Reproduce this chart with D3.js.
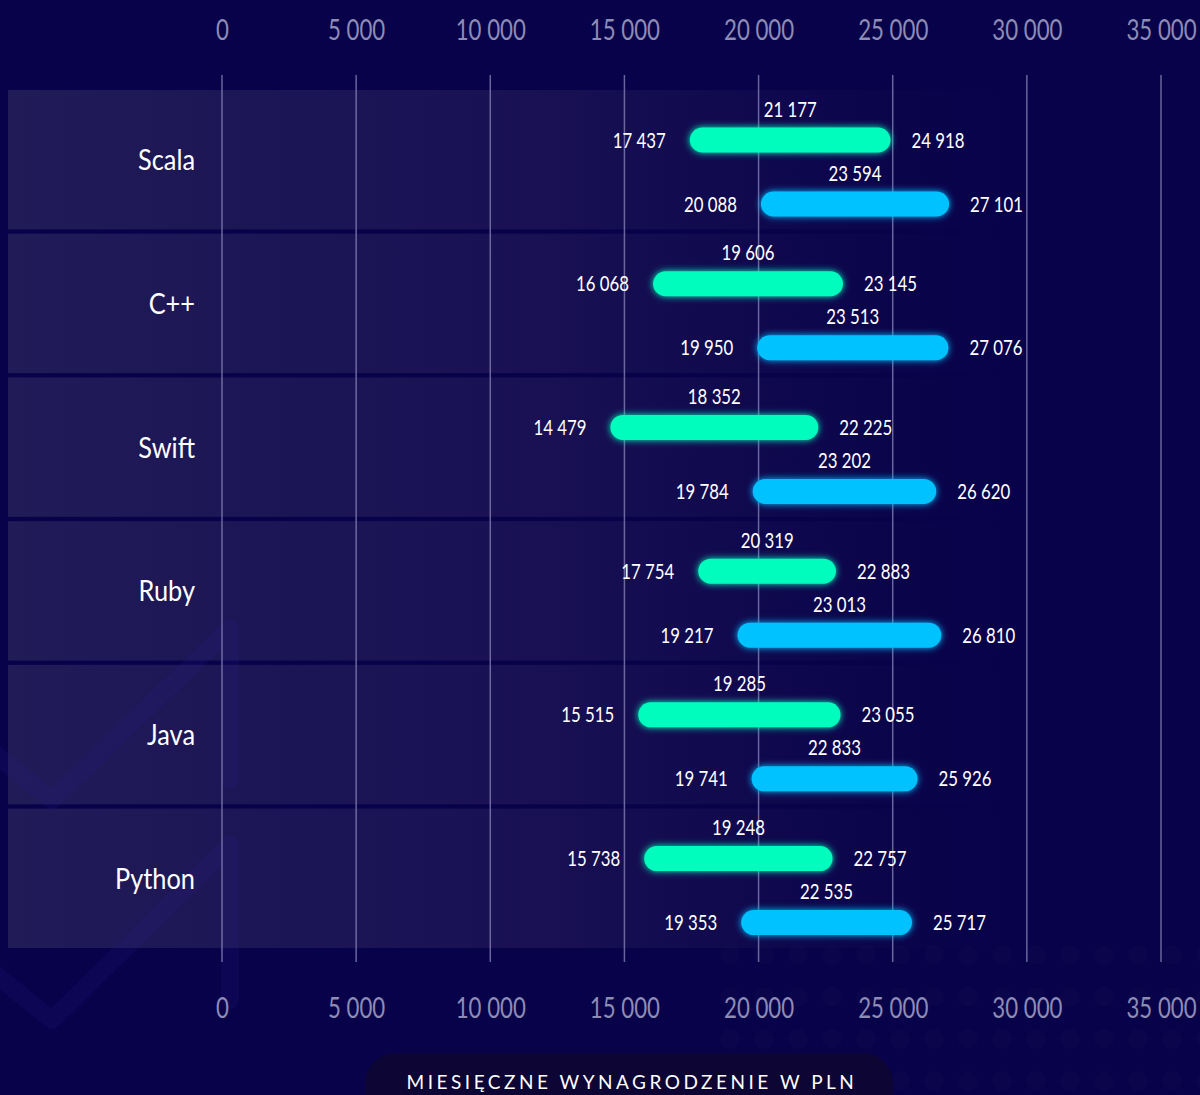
<!DOCTYPE html>
<html>
<head>
<meta charset="utf-8">
<script src="https://cdn.jsdelivr.net/npm/d3@7"></script>
<style>
  html, body { margin: 0; padding: 0; background: #08024a; }
  svg { display: block; }
</style>
</head>
<body>
<svg id="chart" width="1200" height="1095"></svg>
<script>
// ---- data ----
const categories = ["Scala", "C++", "Swift", "Ruby", "Java", "Python"];
const seriesA_min = [17437, 16068, 14479, 17754, 15515, 15738];
const seriesA_med = [21177, 19606, 18352, 20319, 19285, 19248];
const seriesA_max = [24918, 23145, 22225, 22883, 23055, 22757];
const seriesB_min = [20088, 19950, 19784, 19217, 19741, 19353];
const seriesB_med = [23594, 23513, 23202, 23013, 22833, 22535];
const seriesB_max = [27101, 27076, 26620, 26810, 25926, 25717];
const tickValues = [0, 5000, 10000, 15000, 20000, 25000, 30000, 35000];
const axisTitle = "MIESIĘCZNE WYNAGRODZENIE W PLN";

const series = [
  { key: "A", color: "#00fdbd", min: seriesA_min, med: seriesA_med, max: seriesA_max },
  { key: "B", color: "#00c2ff", min: seriesB_min, med: seriesB_med, max: seriesB_max }
];

const W = 1200, H = 1095;
const FONT = "Lato, 'Open Sans', sans-serif";
const locale = d3.formatLocale({ decimal: ",", thousands: " ", grouping: [3], currency: ["", ""] });
const fmt = locale.format(",d");

const svg = d3.select("#chart");
const defs = svg.append("defs");

// condensed text helper: group at (x,y), text scaled horizontally
function ctext(parent, px, py, str, opts) {
  const g = parent.append("g").attr("transform", `translate(${px},${py})`);
  g.append("text")
    .attr("transform", `scale(${opts.sx},1)`)
    .attr("text-anchor", opts.anchor || "start")
    .attr("fill", opts.fill || "#ffffff")
    .style("font-family", FONT)
    .style("font-size", opts.size + "px")
    .text(str);
  return g;
}

// background
svg.append("rect").attr("width", W).attr("height", H).attr("fill", "#08024a");

// band gradient
const bg = defs.append("linearGradient").attr("id", "bandGrad")
  .attr("gradientUnits", "userSpaceOnUse").attr("x1", 8).attr("x2", 1000).attr("y1", 0).attr("y2", 0);
bg.append("stop").attr("offset", 0).attr("stop-color", "#211b58").attr("stop-opacity", 1);
bg.append("stop").attr("offset", 0.55).attr("stop-color", "#1a1254").attr("stop-opacity", 0.9);
bg.append("stop").attr("offset", 1).attr("stop-color", "#140c50").attr("stop-opacity", 0);

// glow filters
const glow = defs.append("filter").attr("id", "glow").attr("x", "-20%").attr("y", "-100%").attr("width", "140%").attr("height", "300%");
glow.append("feGaussianBlur").attr("in", "SourceGraphic").attr("stdDeviation", 3.5).attr("result", "blur");
const merge = glow.append("feMerge");
merge.append("feMergeNode").attr("in", "blur");
merge.append("feMergeNode").attr("in", "SourceGraphic");

const medGlow = defs.append("filter").attr("id", "medGlow").attr("x", "-300%").attr("y", "-20%").attr("width", "700%").attr("height", "140%");
medGlow.append("feGaussianBlur").attr("in", "SourceGraphic").attr("stdDeviation", 2.5).attr("result", "blur");
const m2 = medGlow.append("feMerge");
m2.append("feMergeNode").attr("in", "blur");
m2.append("feMergeNode").attr("in", "SourceGraphic");

// decorative dots (bottom right, very faint)
const deco = svg.append("g");
const dotXs = d3.range(730, 1220, 34);
const dotYs = d3.range(955, 1100, 42);
dotYs.forEach(yy => dotXs.forEach(xx => {
  deco.append("circle").attr("cx", xx).attr("cy", yy).attr("r", 10).attr("fill", "#ffffff").attr("fill-opacity", 0.014);
}));

// scales
const x = d3.scaleLinear().domain([0, 35000]).range([222, 1161]);
const y = d3.scaleBand().domain(categories).range([90, 948]).paddingInner(0.03).paddingOuter(0);

// row bands
svg.append("g").selectAll("rect").data(categories).join("rect")
  .attr("x", 8).attr("width", W - 8)
  .attr("y", d => y(d)).attr("height", y.bandwidth())
  .attr("fill", "url(#bandGrad)");

// decorative check marks (very faint)
const checks = svg.append("g").attr("fill", "none").attr("stroke", "#2a2290").attr("stroke-opacity", 0.16)
  .attr("stroke-width", 18).attr("stroke-linecap", "round").attr("stroke-linejoin", "round");
checks.append("path").attr("d", "M -10 750 L 52 800 L 230 628 L 230 780");
checks.append("path").attr("d", "M -10 970 L 52 1020 L 230 845 L 230 1000");

// grid lines
svg.append("g").selectAll("line").data(tickValues).join("line")
  .attr("x1", d => x(d)).attr("x2", d => x(d))
  .attr("y1", 75).attr("y2", 962)
  .attr("stroke", "#8a86b8").attr("stroke-opacity", 0.75).attr("stroke-width", 1.5);

// axes (top & bottom)
function styleAxis(g) {
  g.select(".domain").remove();
  g.selectAll(".tick line").remove();
  g.selectAll(".tick text")
    .attr("fill", "#8e8bb4")
    .attr("dy", "0").attr("y", 0)
    .attr("transform", "scale(0.78,1)")
    .style("font-family", FONT)
    .style("font-size", "28.5px");
}
svg.append("g").attr("transform", "translate(0,40)")
  .call(d3.axisBottom(x).tickValues(tickValues).tickFormat(fmt).tickSize(0).tickPadding(0))
  .call(styleAxis);
svg.append("g").attr("transform", "translate(0,1018)")
  .call(d3.axisBottom(x).tickValues(tickValues).tickFormat(fmt).tickSize(0).tickPadding(0))
  .call(styleAxis);

// category labels
const catG = svg.append("g");
categories.forEach(c => {
  ctext(catG, 195, y(c) + y.bandwidth() / 2 + 10.5, c, { sx: 0.86, size: 29.5, anchor: "end" });
});

// bars
const offsets = { A: 50, B: 114 };
const barH = 25;
const plot = svg.append("g");
series.forEach(s => {
  categories.forEach((c, i) => {
    const cy = y(c) + offsets[s.key];
    const g = plot.append("g");
    g.append("rect")
      .attr("x", x(s.min[i])).attr("width", x(s.max[i]) - x(s.min[i]))
      .attr("y", cy - barH / 2).attr("height", barH)
      .attr("rx", barH / 2).attr("ry", barH / 2)
      .attr("fill", s.color).attr("filter", "url(#glow)");
    g.append("line")
      .attr("x1", x(s.med[i])).attr("x2", x(s.med[i]))
      .attr("y1", cy - 19).attr("y2", cy + 17)
      .attr("stroke", "#ffffff").attr("stroke-width", 2.5).attr("filter", "url(#medGlow)");
    const o = { sx: 0.8, size: 21 };
    ctext(g, x(s.min[i]) - 24, cy + 7.5, fmt(s.min[i]), Object.assign({ anchor: "end" }, o));
    ctext(g, x(s.max[i]) + 21, cy + 7.5, fmt(s.max[i]), Object.assign({ anchor: "start" }, o));
    ctext(g, x(s.med[i]), cy - 23.5, fmt(s.med[i]), Object.assign({ anchor: "middle" }, o));
  });
});

// axis title pill
svg.append("rect").attr("x", 365).attr("y", 1053).attr("width", 528).attr("height", 80)
  .attr("rx", 30).attr("ry", 30).attr("fill", "#0d0533");
svg.append("text").attr("x", 632).attr("y", 1089)
  .attr("text-anchor", "middle").attr("fill", "#ffffff")
  .style("font-family", FONT).style("font-size", "19px")
  .style("letter-spacing", "3.5px")
  .text(axisTitle);
</script>
</body>
</html>
